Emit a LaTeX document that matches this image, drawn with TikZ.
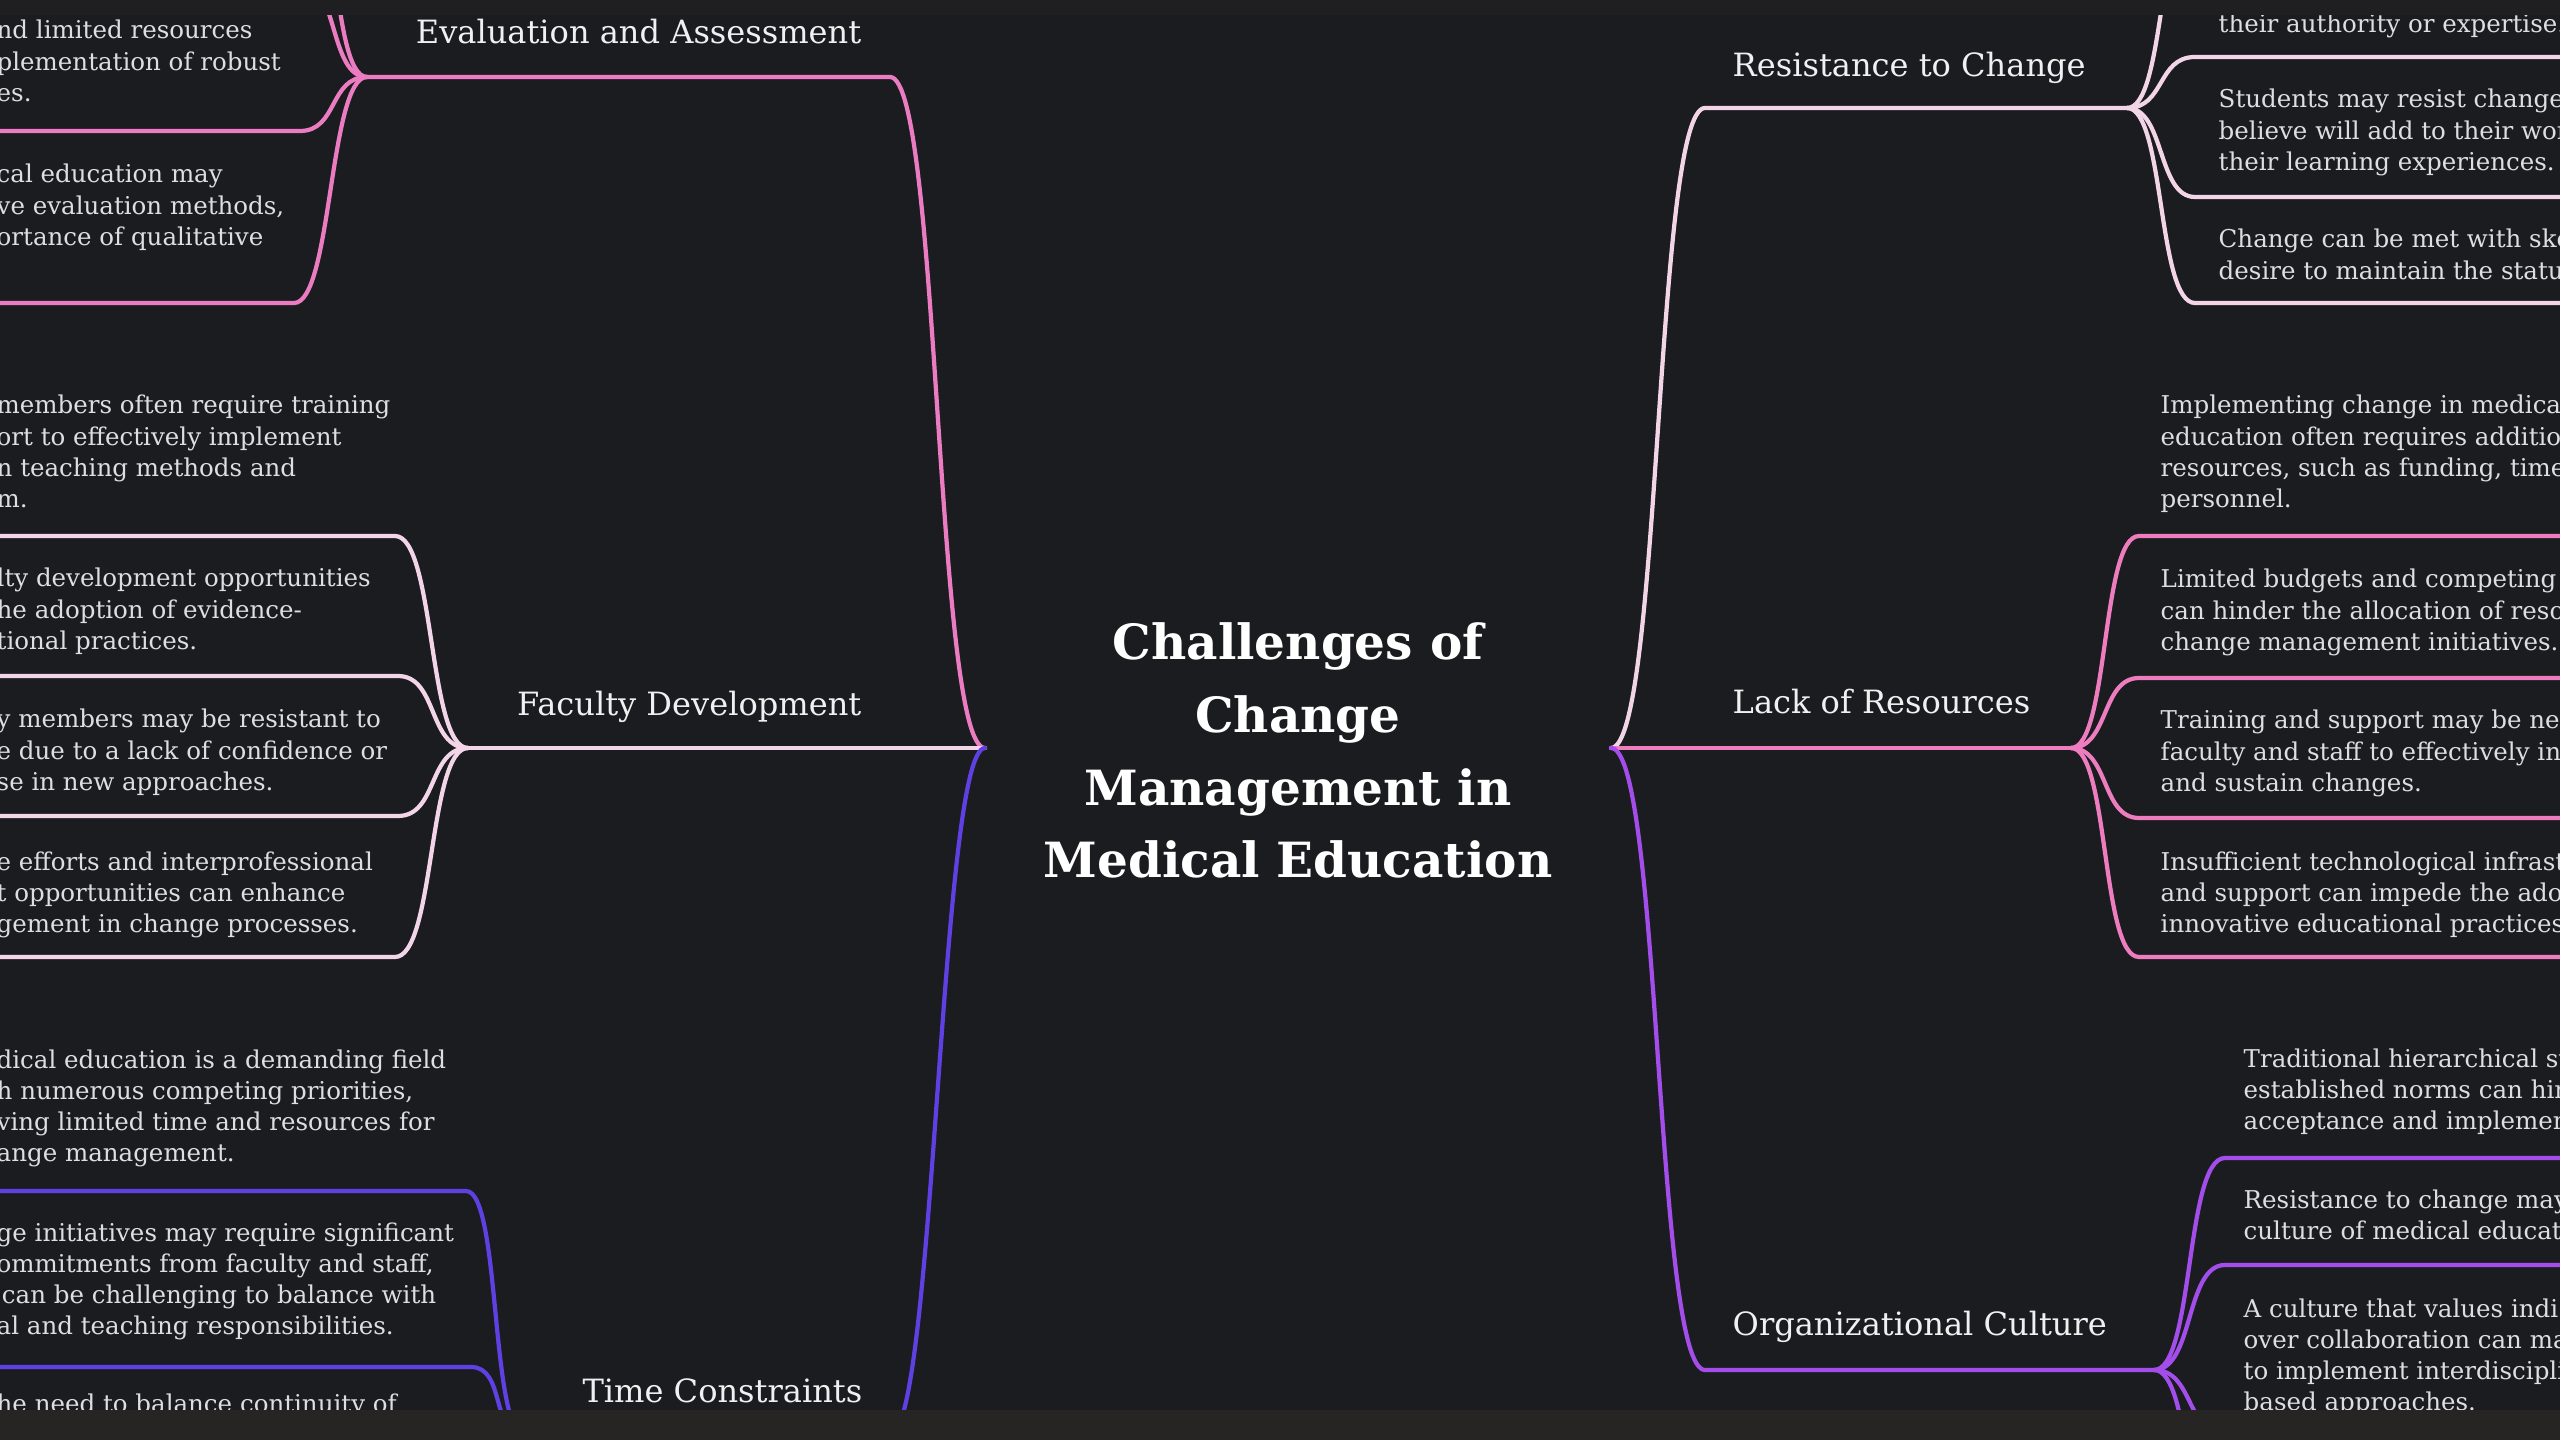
\documentclass[tikz,border=0pt]{standalone}
\usepackage{fontspec}
\setmainfont{DejaVu Serif}
\newcommand\stackl[1]{\begin{tabular}[t]{@{}l@{}}#1\end{tabular}}
\newcommand\stackc[1]{\begin{tabular}[t]{@{}c@{}}#1\end{tabular}}
\definecolor{bgmain}{HTML}{1B1C20}
\definecolor{topband}{HTML}{1F1F21}
\definecolor{bottomband}{HTML}{262523}
\definecolor{evalc}{HTML}{EC7CC1}
\definecolor{facc}{HTML}{F3D5E9}
\definecolor{timec}{HTML}{5F40E2}
\definecolor{resc}{HTML}{F2D6E8}
\definecolor{lackc}{HTML}{EE7DC0}
\definecolor{orgc}{HTML}{A34DEA}
\definecolor{detailc}{HTML}{DEDEE0}
\definecolor{labelc}{HTML}{F0F0F0}
\begin{document}
\begin{tikzpicture}[x=0.01cm,y=-0.01cm,
  link/.style={line width=1.2pt, line cap=round},
  detail/.style={inner sep=0pt, anchor=base west, text=detailc,
    font=\fontsize{6.97pt}{8.82pt}\selectfont},
  branchlbl/.style={inner sep=0pt, text=labelc,
    font=\fontsize{9.12pt}{11pt}\selectfont},
  titlelbl/.style={inner sep=0pt, anchor=base, text=white,
    font=\fontsize{13.8pt}{20.63pt}\selectfont\bfseries}]
\useasboundingbox (0,0) rectangle (2560,1440);
\fill[bgmain] (0,0) rectangle (2560,1440);

\begin{scope}
\clip (0,0) rectangle (2560,1440);

% ---------- central topic ----------
\node[titlelbl] (title) at (1298,660)
  {\stackc{Challenges of\\ Change\\ Management in\\ Medical Education}};
\coordinate (Lc) at (985,748);
\coordinate (Rc) at (1611,748);

% ---------- left branches ----------
% Evaluation and Assessment
\node[branchlbl, anchor=base east] (evalL) at (862,44) {Evaluation and Assessment};
\coordinate (evalK) at (890,77);
\coordinate (evalJ) at (367,77);
\draw[link, evalc] (Lc) .. controls +(-50,0) and +(50,0) .. (evalK) -- (evalJ);
\foreach \n/\y/\x in {a/-150/300, b/-20/300, c/131/300, d/303/294}{
  \coordinate (evalK\n) at (\x,\y);
  \coordinate (evalE\n) at (-20,\y);
  \draw[link, evalc] (evalJ) .. controls +(-38,0) and +(38,0) .. (evalK\n) -- (evalE\n);
}
\node[detail] (evalT1) at (-4,39) {\stackl{nd limited resources\\ plementation of robust\\ es.}};
\node[detail] (evalT2) at (-4,183) {\stackl{cal education may\\ ve evaluation methods,\\ ortance of qualitative}};

% Faculty Development
\node[branchlbl, anchor=base east] (facL) at (862,716) {Faculty Development};
\coordinate (facJ) at (468,748);
\draw[link, facc] (Lc) -- (facJ);
\foreach \n/\y/\x in {a/536/395, b/676/398, c/816/398, d/957/395}{
  \coordinate (facK\n) at (\x,\y);
  \coordinate (facE\n) at (-20,\y);
  \draw[link, facc] (facJ) .. controls +(-40,0) and +(40,0) .. (facK\n) -- (facE\n);
}
\node[detail] (facT1) at (-4,414) {\stackl{members often require training\\ ort to effectively implement\\ n teaching methods and\\ m.}};
\node[detail] (facT2) at (-4,587) {\stackl{lty development opportunities\\ he adoption of evidence-\\ tional practices.}};
\node[detail] (facT3) at (-4,728) {\stackl{y members may be resistant to\\ e due to a lack of confidence or\\ se in new approaches.}};
\node[detail] (facT4) at (-4,870) {\stackl{e efforts and interprofessional\\ t opportunities can enhance\\ gement in change processes.}};

% Time Constraints
\node[branchlbl, anchor=base east] (timeL) at (863,1402) {Time Constraints};
\coordinate (timeK) at (890,1435);
\coordinate (timeJ) at (525,1435);
\draw[link, timec] (Lc) .. controls +(-45,0) and +(45,0) .. (timeK) -- (timeJ);
\foreach \n/\y/\x in {a/1191/466, b/1367/471}{
  \coordinate (timeK\n) at (\x,\y);
  \coordinate (timeE\n) at (-20,\y);
  \draw[link, timec] (timeJ) .. controls +(-35,0) and +(35,0) .. (timeK\n) -- (timeE\n);
}
\node[detail] (timeT1) at (-4,1068) {\stackl{dical education is a demanding field\\ h numerous competing priorities,\\ ving limited time and resources for\\ ange management.}};
\node[detail] (timeT2) at (-4,1241) {\stackl{ge initiatives may require significant\\ ommitments from faculty and staff,\\ \hspace*{1.5pt}can be challenging to balance with\\ al and teaching responsibilities.}};
\node[detail] (timeT3) at (-4,1412) {he need to balance continuity of};

% ---------- right branches ----------
% Resistance to Change
\node[branchlbl, anchor=base west] (resL) at (1732,77) {Resistance to Change};
\coordinate (resK) at (1705,108);
\coordinate (resJ) at (2127,108);
\draw[link, resc] (Rc) .. controls +(50,0) and +(-50,0) .. (resK) -- (resJ);
\foreach \n/\y in {a/-83, b/57, c/197, d/303}{
  \coordinate (resK\n) at (2195,\y);
  \coordinate (resE\n) at (2580,\y);
  \draw[link, resc] (resJ) .. controls +(38,0) and +(-38,0) .. (resK\n) -- (resE\n);
}
\node[detail] (resT1) at (2218,33) {their authority or expertise.};
\node[detail] (resT2) at (2218,108) {\stackl{Students may resist change\\ believe will add to their wor\\ their learning experiences.}};
\node[detail] (resT3) at (2218,248) {\stackl{Change can be met with ske\\ desire to maintain the status}};

% Lack of Resources
\node[branchlbl, anchor=base west] (lackL) at (1732,714) {Lack of Resources};
\coordinate (lackJ) at (2071,748);
\draw[link, lackc] (Rc) -- (lackJ);
\foreach \n/\y in {a/536, b/678, c/818, d/957}{
  \coordinate (lackK\n) at (2139,\y);
  \coordinate (lackE\n) at (2580,\y);
  \draw[link, lackc] (lackJ) .. controls +(38,0) and +(-38,0) .. (lackK\n) -- (lackE\n);
}
\node[detail] (lackT1) at (2160,414) {\stackl{Implementing change in medical\\ education often requires additio\\ resources, such as funding, time,\\ personnel.}};
\node[detail] (lackT2) at (2160,588) {\stackl{Limited budgets and competing\\ can hinder the allocation of reso\\ change management initiatives.}};
\node[detail] (lackT3) at (2160,729) {\stackl{Training and support may be ne\\ faculty and staff to effectively in\\ and sustain changes.}};
\node[detail] (lackT4) at (2160,870) {\stackl{Insufficient technological infrast\\ and support can impede the ado\\ innovative educational practices}};

% Organizational Culture
\node[branchlbl, anchor=base west] (orgL) at (1732,1335) {Organizational Culture};
\coordinate (orgK) at (1705,1370);
\coordinate (orgJ) at (2154,1370);
\draw[link, orgc] (Rc) .. controls +(50,0) and +(-50,0) .. (orgK) -- (orgJ);
\foreach \n/\y in {a/1158, b/1265, c/1433, d/1570}{
  \coordinate (orgK\n) at (2225,\y);
  \coordinate (orgE\n) at (2580,\y);
  \draw[link, orgc] (orgJ) .. controls +(40,0) and +(-40,0) .. (orgK\n) -- (orgE\n);
}
\node[detail] (orgT1) at (2243,1067) {\stackl{Traditional hierarchical st\\ established norms can hin\\ acceptance and implemen}};
\node[detail] (orgT2) at (2243,1208) {\stackl{Resistance to change may\\ culture of medical educat}};
\node[detail] (orgT3) at (2243,1317) {\stackl{A culture that values indi\\ over collaboration can ma\\ to implement interdiscipli\\ based approaches.}};
\end{scope}

% frame bands at the top and bottom edges
\fill[topband] (0,0) rectangle (2560,15);
\fill[bottomband] (0,1410) rectangle (2560,1440);
\end{tikzpicture}
\end{document}
